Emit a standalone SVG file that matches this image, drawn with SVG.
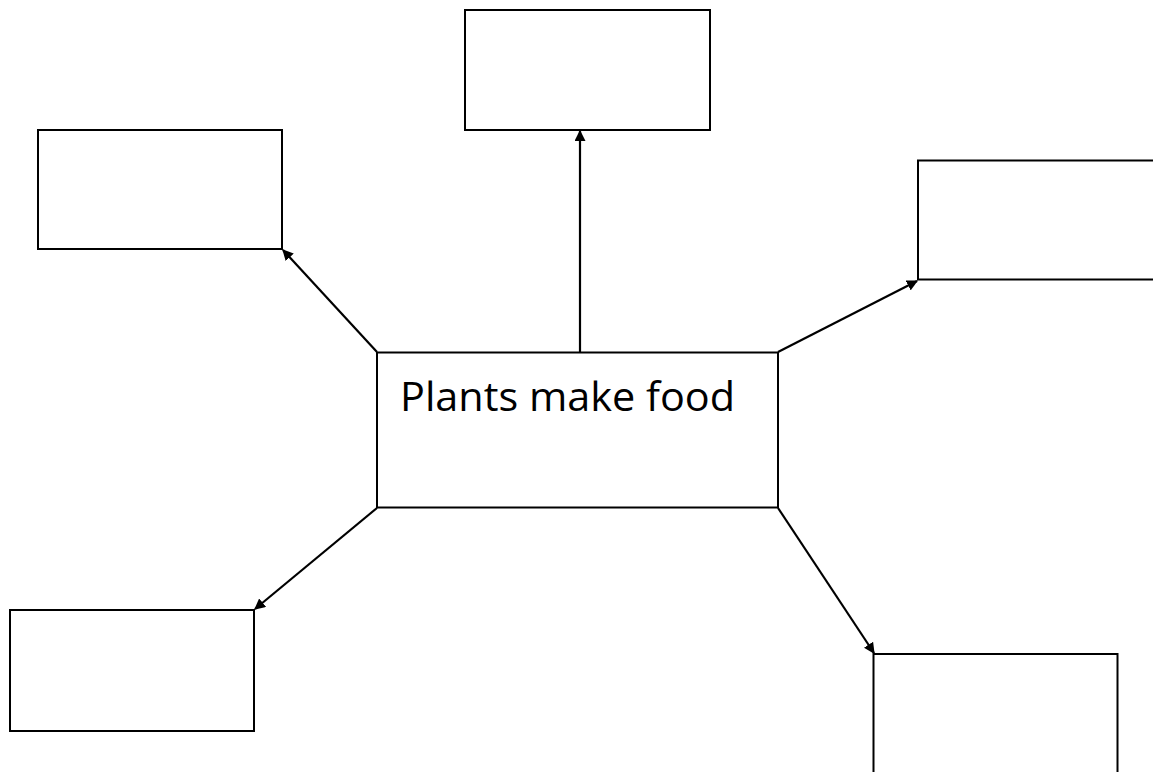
<svg xmlns="http://www.w3.org/2000/svg" width="1153" height="772" viewBox="0 0 1153 772">
<defs>
<style>
.box{fill:#fff;stroke:#000;stroke-width:2}
.con{stroke:#000;stroke-width:2.2;fill:none;marker-end:url(#ah)}
.lbl{font-family:"Open Sans","Liberation Sans",Arial,sans-serif;font-size:40px;fill:#000}
</style>
<marker id="ah" viewBox="0 0 10 10" refX="9" refY="5" markerWidth="5" markerHeight="5" orient="auto" markerUnits="strokeWidth">
<path d="M0,0 L10,5 L0,10 z" fill="#000"/>
</marker>
</defs>
<rect width="1153" height="772" fill="#fff"/>
<g id="connectors">
<line class="con" x1="580" y1="352" x2="580" y2="131"/>
<line class="con" x1="377" y1="352" x2="283" y2="250"/>
<line class="con" x1="778" y1="352" x2="917" y2="281"/>
<line class="con" x1="377" y1="508" x2="255" y2="609"/>
<line class="con" x1="778" y1="508" x2="874" y2="653"/>
</g>
<g id="node-center">
<rect class="box" x="377" y="352.5" width="401" height="155"/>
<text class="lbl" x="400" y="411" textLength="335" lengthAdjust="spacingAndGlyphs">Plants make food</text>
</g>
<g id="node-top"><rect class="box" x="465" y="10" width="245" height="120"/></g>
<g id="node-topleft"><rect class="box" x="38" y="130" width="244" height="119"/></g>
<g id="node-topright"><rect class="box" x="918" y="160.5" width="250" height="119"/></g>
<g id="node-bottomleft"><rect class="box" x="10" y="610" width="244" height="121"/></g>
<g id="node-bottomright"><rect class="box" x="873.5" y="654" width="244" height="130"/></g>
</svg>
